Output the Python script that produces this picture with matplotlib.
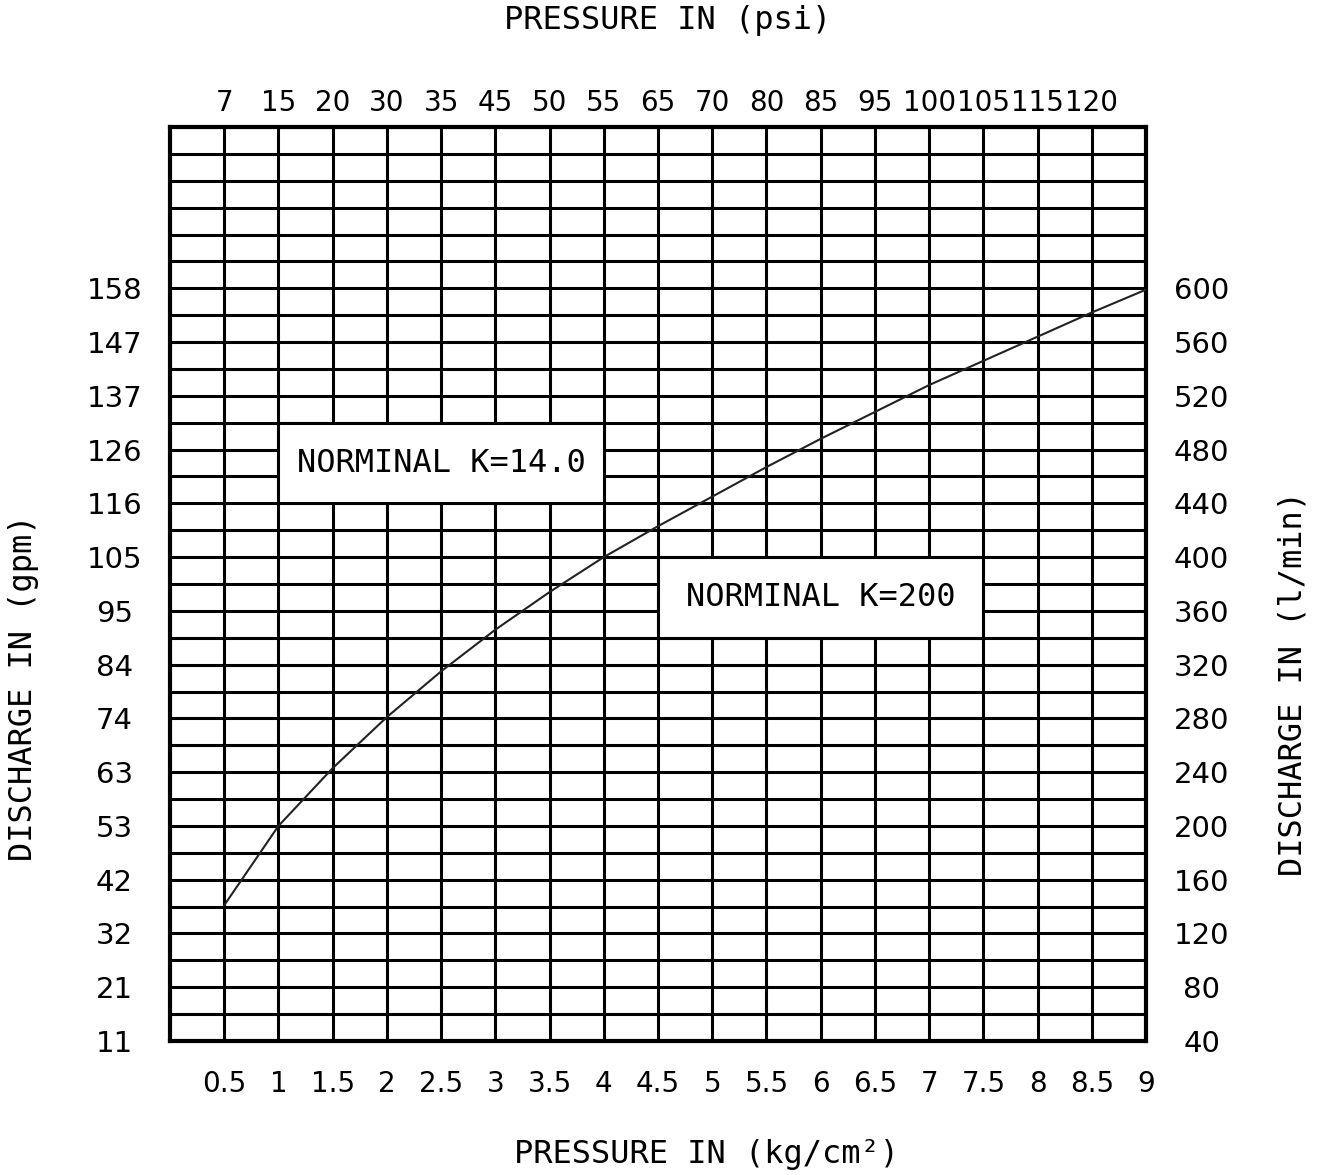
import matplotlib.pyplot as plt
from matplotlib.patches import Rectangle

# curve: pressure (kg/cm2) vs discharge (l/min)
pressure_kg = [0.5, 1, 1.5, 2, 2.5, 3, 3.5, 4, 4.5, 5, 5.5, 6, 6.5, 7, 7.5, 8, 8.5, 9]
discharge_lpm = [141, 200, 243, 281, 315, 346, 374, 400, 423, 445, 467, 488, 508, 528, 546, 564, 582, 599]

kg_ticks = [0.5, 1, 1.5, 2, 2.5, 3, 3.5, 4, 4.5, 5, 5.5, 6, 6.5, 7, 7.5, 8, 8.5, 9]
kg_labels = ['0.5', '1', '1.5', '2', '2.5', '3', '3.5', '4', '4.5', '5', '5.5', '6',
             '6.5', '7', '7.5', '8', '8.5', '9']
psi_ticks = [0.5, 1, 1.5, 2, 2.5, 3, 3.5, 4, 4.5, 5, 5.5, 6, 6.5, 7, 7.5, 8, 8.5]
psi_labels = ['7', '15', '20', '30', '35', '45', '50', '55', '65', '70', '80', '85',
              '95', '100', '105', '115', '120']
lpm_ticks = [40, 80, 120, 160, 200, 240, 280, 320, 360, 400, 440, 480, 520, 560, 600]
lpm_labels = ['40', '80', '120', '160', '200', '240', '280', '320', '360', '400',
              '440', '480', '520', '560', '600']
gpm_labels = ['11', '21', '32', '42', '53', '63', '74', '84', '95', '105', '116',
              '126', '137', '147', '158']

W, H = 1317, 1175
fig = plt.figure(figsize=(W / 100, H / 100), dpi=100)
ax = fig.add_axes([170 / W, 1 - 1041 / H, (1146 - 170) / W, (1041 - 127) / H])

ax.set_xlim(0, 9)
ax.set_ylim(40, 720)
ax.set_axisbelow(True)

ax.set_xticks(kg_ticks)
ax.set_xticklabels(kg_labels)
ax.set_yticks(lpm_ticks)
ax.set_yticklabels(gpm_labels)
ax.set_yticks(range(40, 721, 20), minor=True)

ax.grid(True, which='both', color='black', lw=2.2)
ax.tick_params(which='both', length=0)
ax.tick_params(axis='x', pad=21, labelsize=20)
ax.tick_params(axis='y', pad=40, labelsize=21)
for lab in ax.get_yticklabels():
    lab.set_ha('center')
for s in ax.spines.values():
    s.set_linewidth(3)

# right axis in l/min
axr = ax.twinx()
axr.set_ylim(40, 720)
axr.set_yticks(lpm_ticks)
axr.set_yticklabels(lpm_labels)
axr.tick_params(length=0, pad=40, labelsize=21)
for lab in axr.get_yticklabels():
    lab.set_ha('center')

# top axis in psi
axt = ax.twiny()
axt.set_xlim(0, 9)
axt.set_xticks(psi_ticks)
axt.set_xticklabels(psi_labels)
axt.tick_params(length=0, pad=7, labelsize=20)
for a in (axr, axt):
    for s in a.spines.values():
        s.set_visible(False)

# white label boxes over the grid
ax.add_patch(Rectangle((1, 440), 3, 60, facecolor='white', edgecolor='black', lw=2.2, zorder=2))
ax.add_patch(Rectangle((4.5, 340), 3, 60, facecolor='white', edgecolor='black', lw=2.2, zorder=2))
ax.text(2.5, 470, 'NORMINAL K=14.0', ha='center', va='center', fontsize=23,
        family='DejaVu Sans Mono', zorder=4)
ax.text(6.0, 370, 'NORMINAL K=200', ha='center', va='center', fontsize=23,
        family='DejaVu Sans Mono', zorder=4)

ax.plot(pressure_kg, discharge_lpm, color='#222222', lw=1.5, zorder=3)

fig.text(668 / W, 1 - 20 / H, 'PRESSURE IN (psi)', ha='center', va='center',
         fontsize=23, family='DejaVu Sans Mono')
fig.text(707 / W, 1 - 1155 / H, 'PRESSURE IN (kg/cm²)', ha='center', va='center',
         fontsize=23, family='DejaVu Sans Mono')
fig.text(24 / W, 1 - 688 / H, 'DISCHARGE IN (gpm)', ha='center', va='center',
         rotation=90, fontsize=23, family='DejaVu Sans Mono')
fig.text(1293 / W, 1 - 683 / H, 'DISCHARGE IN (l/min)', ha='center', va='center',
         rotation=90, fontsize=23, family='DejaVu Sans Mono')

fig.savefig('out.png', dpi=100)
